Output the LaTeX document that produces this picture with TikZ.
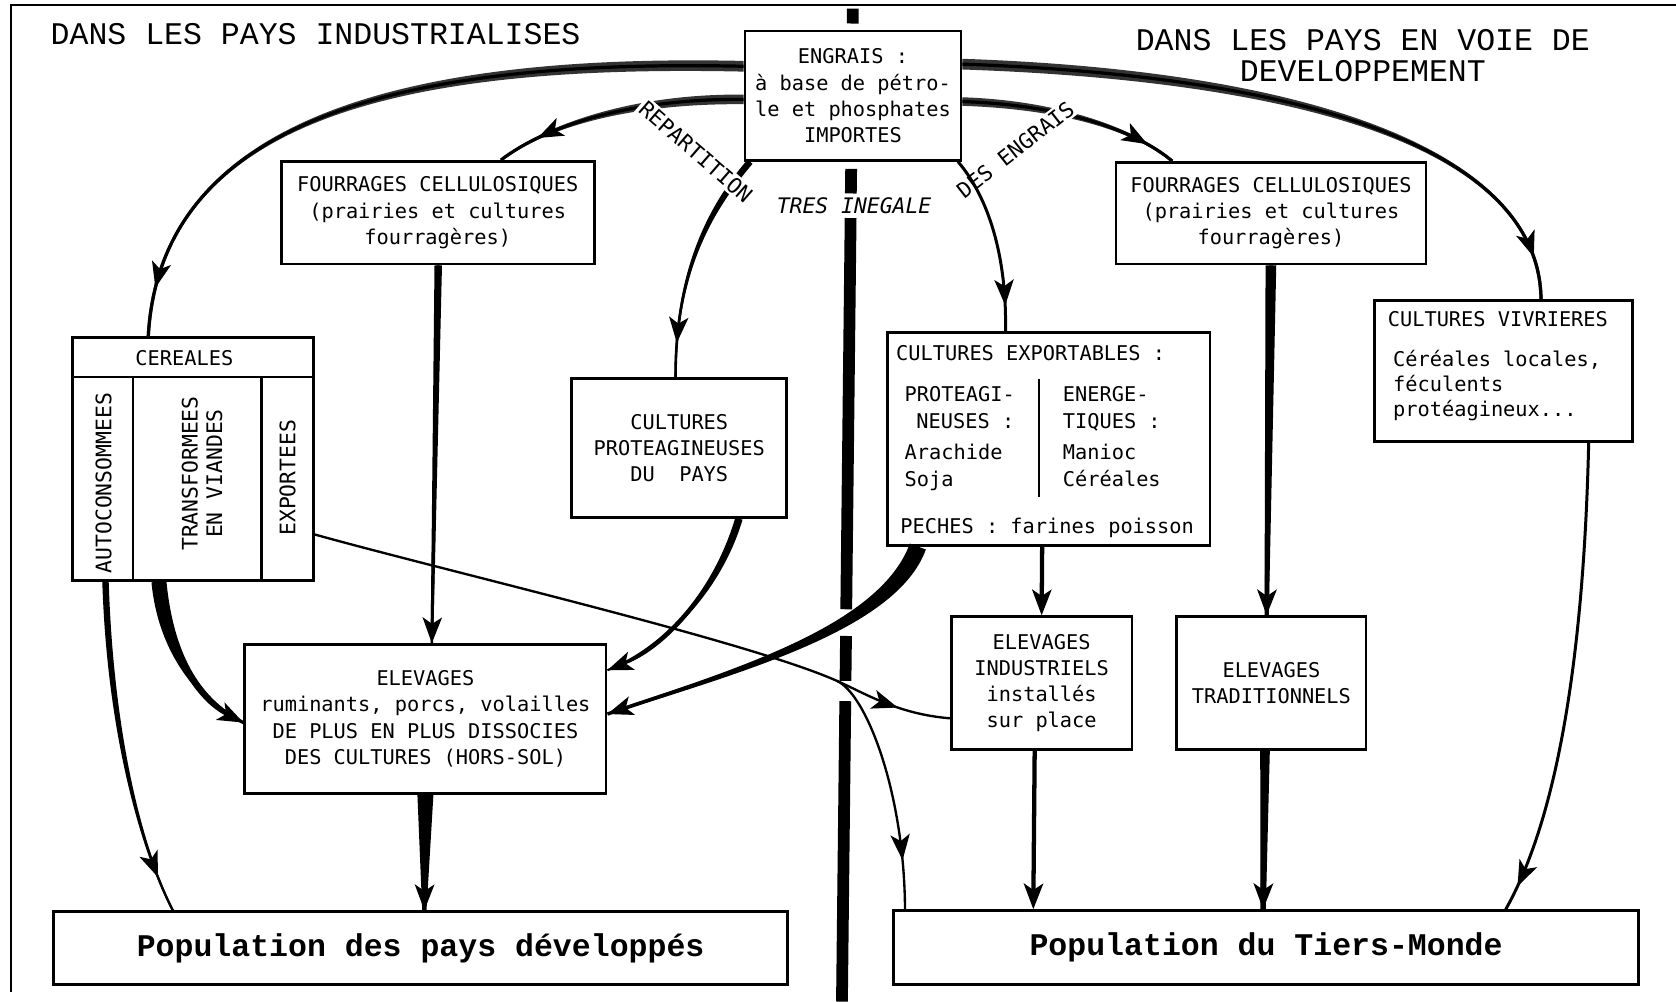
\documentclass[tikz,border=0pt]{standalone}
\usepackage{fontspec}
\usetikzlibrary{calc,arrows.meta,decorations.markings}
\newfontfamily\boxfont{DejaVu Sans Mono}
\newfontfamily\typefont{Liberation Mono}

% filled band between two offset copies of a cubic curve (wide at the start, narrow at the end)
\newcommand\taperfill[7][black]{%
  \fill[#1] ($#2+#6$) .. controls ($#3+#6$) and ($#4+#7$) .. ($#5+#7$)
    -- ($#5-#7$) .. controls ($#4-#7$) and ($#3-#6$) .. ($#2-#6$) -- cycle;}
% vertical straight band, half widths #3 at the top and #4 at the bottom
\newcommand\taperbar[4]{%
  \fill ($#1+(-#3,0)$) -- ($#1+(#3,0)$) -- ($#2+(#4,0)$) -- ($#2+(-#4,0)$) -- cycle;}

\begin{document}
\begin{tikzpicture}[x=0.5pt,y=-0.5pt,
  box/.style={draw,line width=1.3pt,inner sep=0pt,align=center,
    font=\boxfont\fontsize{9.5}{12.2}\selectfont},
  txt/.style={inner sep=0pt,font=\boxfont\fontsize{9.5}{12.2}\selectfont},
  coltxt/.style={inner sep=0pt,rotate=90,align=center,
    font=\boxfont\fontsize{10}{11.5}\selectfont},
  title/.style={inner sep=0pt,align=center,
    font=\typefont\fontsize{14.75}{14.5}\selectfont},
  popbox/.style={draw,line width=1.3pt,inner sep=0pt,
    font=\typefont\bfseries\fontsize{14.75}{16}\selectfont},
  lbl/.style={inner sep=1pt,font=\boxfont\fontsize{10}{12}\selectfont},
  conn/.style={draw,line width=1.4pt,>={Stealth[length=12pt,width=9pt,inset=3pt]}},
  midtip/.style={postaction={decorate},
    decoration={markings,mark=at position #1 with {\arrow{>}}}},
  divider/.style={line width=5.5pt},
  frame/.style={line width=1pt}]

\fill[white] (0,0) rectangle (1568,937);
\useasboundingbox (0,0) rectangle (1568,937);

% outer frame
\draw[frame] (10,928) -- (10,5) -- (1568,5);

% dividing bar between the two halves
\draw[divider] (797.9,8) -- (797.8,22);
\draw[divider] (796.3,158) -- (796,181);
\draw[divider] (795.8,204) -- (791.7,570);
\draw[divider] (791.5,595) -- (791,637);
\draw[divider] (790.8,656) -- (787.7,937);

% titles
\node[title,anchor=base west] (titleL) at (47,42) {DANS LES PAYS INDUSTRIALISES};
\node[title] (titleR) at (1275,52) {DANS LES PAYS EN VOIE DE\\DEVELOPPEMENT};

% boxes
\node[box,minimum width=101pt,minimum height=60.5pt] (engrais) at (798,89.5)
  {ENGRAIS :\\à base de pétro-\\le et phosphates\\IMPORTES};
\node[box,minimum width=146.5pt,minimum height=48pt] (fourL) at (409.5,199)
  {FOURRAGES CELLULOSIQUES\\(prairies et cultures\\fourragères)};
\node[box,minimum width=145pt,minimum height=47.5pt] (fourR) at (1189,199.5)
  {FOURRAGES CELLULOSIQUES\\(prairies et cultures\\fourragères)};
\node[box,minimum width=112.5pt,minimum height=113.5pt] (cer) at (180.5,429.5) {};
\node[box,minimum width=100.5pt,minimum height=65pt] (prot) at (635.5,419)
  {CULTURES\\PROTEAGINEUSES\\DU\ \ PAYS};
\node[box,minimum width=151pt,minimum height=99.5pt] (expo) at (981,410.5) {};
\node[box,minimum width=120.5pt,minimum height=66pt] (vivr) at (1406.5,347) {};
\node[box,minimum width=169pt,minimum height=69.5pt] (elevL) at (398,672.5)
  {ELEVAGES\\ruminants, porcs, volailles\\DE PLUS EN PLUS DISSOCIES\\DES CULTURES (HORS-SOL)};
\node[box,minimum width=84.5pt,minimum height=62pt] (elevI) at (974.5,639)
  {ELEVAGES\\INDUSTRIELS\\installés\\sur place};
\node[box,minimum width=88.5pt,minimum height=62pt] (elevT) at (1189.5,639)
  {ELEVAGES\\TRADITIONNELS};
\node[popbox,minimum width=343.5pt,minimum height=34pt] (popD) at (393.5,887)
  {Population des pays développés};
\node[popbox,minimum width=348.5pt,minimum height=34.5pt] (popT) at (1184.5,886.5)
  {Population du Tiers-Monde};

% cereals: header and three columns
\draw[line width=1.3pt] ($(cer.north west)+(0,38)$) -- ($(cer.north east)+(0,38)$);
\draw[line width=1pt] ($(cer.north west)+(58,38)$) -- ($(cer.south west)+(58,0)$);
\draw[line width=1pt] ($(cer.north west)+(178,38)$) -- ($(cer.south west)+(178,0)$);
\node[txt] (cerhead) at ($(cer.north)+(-8,20)$) {CEREALES};
\node[coltxt] (autoc) at (97,452) {AUTOCONSOMMEES};
\node[coltxt] (transf) at (189,443) {TRANSFORMEES\\EN VIANDES};
\node[coltxt] (exportees) at (269,447) {EXPORTEES};

% export crops
\node[txt,anchor=base west] (expoT) at (838,337) {CULTURES EXPORTABLES :};
\node[txt,anchor=base west] (pro1) at (846,376) {PROTEAGI-};
\node[txt,anchor=base west] (pro2) at (857,401) {NEUSES :};
\node[txt,anchor=base west] (pro3) at (846,430) {Arachide};
\node[txt,anchor=base west] (pro4) at (846,455) {Soja};
\node[txt,anchor=base west] (ene1) at (994,376) {ENERGE-};
\node[txt,anchor=base west] (ene2) at (994,401) {TIQUES :};
\node[txt,anchor=base west] (ene3) at (994,430) {Manioc};
\node[txt,anchor=base west] (ene4) at (994,455) {Céréales};
\node[txt,anchor=base west] (peche) at (842,499) {PECHES : farines poisson};
\draw[line width=1pt] (972,355) -- (972,465);

% food crops
\node[txt,anchor=base west] (viv1) at (1298,305) {CULTURES VIVRIERES};
\node[txt,anchor=base west] (viv2) at (1303,343) {Céréales locales,};
\node[txt,anchor=base west] (viv3) at (1303,366) {féculents};
\node[txt,anchor=base west] (viv4) at (1303,390) {protéagineux...};

% connector end points
\coordinate (a0) at ($(engrais.west)+(0,-27.5)$);
\coordinate (a1) at ($(cer.north west)+(72,0)$);
\coordinate (b0) at ($(engrais.west)+(0,3.5)$);
\coordinate (b1) at ($(fourL.north west)+(207,0)$);
\coordinate (c0) at ($(engrais.east)+(0,5.5)$);
\coordinate (c1) at ($(fourR.north west)+(54,0)$);
\coordinate (d0) at ($(engrais.east)+(0,-29.5)$);
\coordinate (d1) at ($(vivr.north west)+(157,0)$);
\coordinate (e0) at ($(engrais.south west)+(6,0)$);
\coordinate (e1) at ($(prot.north)+(-3.5,0)$);
\coordinate (f0) at ($(engrais.south east)+(-4,0)$);
\coordinate (f1) at ($(expo.north west)+(112,0)$);
\coordinate (g0) at ($(fourL.south)+(0.5,0)$);
\coordinate (g1) at ($(elevL.north)+(6,0)$);
\coordinate (h0) at (fourR.south);
\coordinate (h1) at ($(elevT.north)+(-4.5,0)$);
\coordinate (i0) at ($(prot.south east)+(-46,0)$);
\coordinate (i1) at ($(elevL.east)+(0,-45.5)$);
\coordinate (j0) at ($(expo.south west)+(30,0)$);
\coordinate (j1) at ($(elevL.east)+(0,-4.5)$);
\coordinate (k0) at ($(expo.south)+(-6,0)$);
\coordinate (k1) at (elevI.north);
\coordinate (l0) at ($(cer.east)+(0,70.5)$);
\coordinate (lb) at (783,637);
\coordinate (l1) at ($(elevI.west)+(0,33)$);
\coordinate (l2) at ($(popT.north west)+(12,0)$);
\coordinate (m0) at ($(cer.south west)+(32,0)$);
\coordinate (m1) at ($(popD.north west)+(113,0)$);
\coordinate (n0) at ($(cer.south west)+(82,0)$);
\coordinate (n1) at ($(elevL.west)+(0,3.5)$);
\coordinate (o0) at (elevL.south);
\coordinate (o1) at ($(popD.north)+(3.5,0)$);
\coordinate (p0) at ($(elevI.south)+(-6.5,0)$);
\coordinate (p1) at ($(popT.north west)+(132,0)$);
\coordinate (q0) at ($(elevT.south)+(-6,0)$);
\coordinate (q1) at ($(popT.north west)+(347,0)$);
\coordinate (r0) at ($(vivr.south east)+(-42,0)$);
\coordinate (r1) at ($(popT.north west)+(574,0)$);

% fertiliser flows out of the central box
\taperfill[black!80]{(a0)}{(380,55)}{(150,110)}{(a1)}{(0,-5)}{(-1.5,0)}
\draw[conn,line width=1.5pt,midtip=-23pt] (a0) .. controls (380,55) and (150,110) .. (a1);
\taperfill[black!80]{(b0)}{(590,92)}{(510,118)}{(b1)}{(0,-4.5)}{(-0.8,-0.9)}
\draw[conn,line width=1.5pt,midtip=-20pt] (b0) .. controls (590,92) and (510,118) .. (b1);
\taperfill[black!80]{(c0)}{(990,98)}{(1060,120)}{(c1)}{(0,4)}{(-0.8,0.9)}
\draw[conn,line width=1.5pt,midtip=-14pt] (c0) .. controls (990,98) and (1060,120) .. (c1);
\taperfill[black!80]{(d0)}{(1250,72)}{(1440,150)}{(d1)}{(0,5)}{(-1.5,0)}
\draw[conn,line width=1.5pt,midtip=-20pt] (d0) .. controls (1250,72) and (1440,150) .. (d1);
\taperfill{(e0)}{(660,200)}{(632,260)}{(e1)}{(-2.3,-2)}{(-1,0)}
\draw[conn,line width=1.2pt,midtip=-16pt] (e0) .. controls (660,200) and (632,260) .. (e1);

% labels along the fertiliser flows
\node[lbl,fill=white,rotate=-41] (rep) at (651,142) {REPARTITION};
\node[lbl,font=\boxfont\itshape\fontsize{10}{12}\selectfont] (tres) at (799,192) {TRES INEGALE};
\node[lbl,fill=white,rotate=38] (desengr) at (950,140) {DES ENGRAIS};

\draw[conn,line width=1.4pt,midtip=-12pt] (f0) .. controls (925,185) and (942,240) .. (f1);

% flows towards livestock
\taperbar{(g0)}{(g1)}{3.5}{1.2}
\draw[conn,->,line width=1.4pt] (g0) -- (g1);
\taperbar{(h0)}{(h1)}{5}{2}
\draw[conn,->,line width=2pt] (h0) -- (h1);
\taperfill{(i0)}{(672,550)}{(625,605)}{(i1)}{(-3.4,-0.9)}{(-0.4,-0.95)}
\draw[conn,->,line width=1pt] (i0) .. controls (672,550) and (625,605) .. (i1);
\taperfill{(j0)}{(830,590)}{(680,630)}{(j1)}{(-7.5,-2.8)}{(-0.5,-1.5)}
\draw[conn,->,line width=1.5pt] (j0) .. controls (830,590) and (680,630) .. (j1);
\draw[conn,->,line width=2pt] (k0) -- (k1);
\taperfill{(n0)}{(155,610)}{(185,655)}{(n1)}{(-7,0.5)}{(-0.65,1.35)}
\draw[conn,->,line width=1.5pt] (n0) .. controls (155,610) and (185,655) .. (n1);

% exported cereals, splitting towards local livestock and the population
\draw[conn,line width=1.1pt,midtip=-25pt] (l0) .. controls (420,535) and (700,600) .. (lb)
  .. controls (810,649) and (840,668) .. (l1);
\draw[conn,line width=1.1pt,midtip=-23pt] (lb) .. controls (810,649) and (846,740) .. (l2);

% flows towards the populations
\taperfill{(m0)}{(103,680)}{(130,790)}{(m1)}{(-3,0)}{(-0.9,0.5)}
\draw[conn,line width=1pt,midtip=-17pt] (m0) .. controls (103,680) and (130,790) .. (m1);
\taperbar{(o0)}{(o1)}{7.5}{2}
\draw[conn,->,line width=2pt] (o0) -- (o1);
\draw[conn,->,line width=2pt] (p0) -- (p1);
\taperbar{(q0)}{(q1)}{4.5}{2.5}
\draw[conn,->,line width=2.5pt] (q0) -- (q1);
\draw[conn,line width=1.4pt,midtip=-12pt] (r0) .. controls (1482,600) and (1460,760) .. (r1);

\end{tikzpicture}
\end{document}
